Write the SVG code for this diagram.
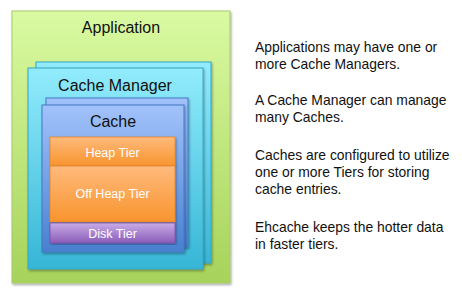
<svg xmlns="http://www.w3.org/2000/svg" width="462" height="294" viewBox="0 0 462 294">
<defs>
<linearGradient id="gApp" x1="0" y1="0" x2="0" y2="1"><stop offset="0" stop-color="#dafaa2"/><stop offset="1" stop-color="#a6d35a"/></linearGradient>
<linearGradient id="gMgr" x1="0" y1="0" x2="0" y2="1"><stop offset="0" stop-color="#92ecfc"/><stop offset="1" stop-color="#36b6d6"/></linearGradient>
<linearGradient id="gCache" x1="0" y1="0" x2="0" y2="1"><stop offset="0" stop-color="#a2c2fa"/><stop offset="1" stop-color="#4880d0"/></linearGradient>
<linearGradient id="gOr" x1="0" y1="0" x2="0" y2="1"><stop offset="0" stop-color="#ffba7c"/><stop offset="1" stop-color="#f8942e"/></linearGradient>
<linearGradient id="gPu" x1="0" y1="0" x2="0" y2="1"><stop offset="0" stop-color="#c8ace6"/><stop offset="1" stop-color="#8a5cb8"/></linearGradient>
<filter id="sh" x="-10%" y="-10%" width="120%" height="120%"><feDropShadow dx="1" dy="1.5" stdDeviation="1.2" flood-color="#000" flood-opacity="0.35"/></filter>
</defs>
<style>
.t{font-family:"Liberation Sans",Arial,sans-serif;text-anchor:middle;}
.d{font-size:16px;fill:#111;}
.w{font-size:12.5px;fill:#fff;}
.r{font-family:"Liberation Sans",Arial,sans-serif;font-size:13.9px;fill:#111;}
</style>
<rect width="462" height="294" fill="#fff"/>
<g id="application">
<rect x="12" y="11" width="218" height="272" fill="url(#gApp)" stroke="#a8c870" stroke-width="1" filter="url(#sh)"/>
<text class="t d" x="121" y="33">Application</text>
</g>
<g id="cache-manager">
<rect x="36" y="62" width="175" height="201" fill="url(#gMgr)" stroke="#36a6c6" stroke-width="1" filter="url(#sh)"/>
<rect x="28" y="68" width="175" height="201" fill="url(#gMgr)" stroke="#36a6c6" stroke-width="1" filter="url(#sh)"/>
<text class="t d" x="115" y="91">Cache Manager</text>
</g>
<g id="cache">
<rect x="46" y="98" width="142" height="149" fill="url(#gCache)" stroke="#4478c4" stroke-width="1" filter="url(#sh)"/>
<rect x="42" y="105" width="142" height="147" fill="url(#gCache)" stroke="#4478c4" stroke-width="1" filter="url(#sh)"/>
<text class="t d" x="113" y="127">Cache</text>
</g>
<g id="heap-tier">
<rect x="50" y="137" width="125" height="29" fill="url(#gOr)" stroke="#e08530" stroke-width="0.8" filter="url(#sh)"/>
<text class="t w" x="112.5" y="157">Heap Tier</text>
</g>
<g id="off-heap-tier">
<rect x="50" y="166" width="125" height="56" fill="url(#gOr)" stroke="#e08530" stroke-width="0.8" filter="url(#sh)"/>
<text class="t w" x="112.5" y="198">Off Heap Tier</text>
</g>
<g id="disk-tier">
<rect x="50" y="223" width="125" height="20" fill="url(#gPu)" stroke="#7a50a8" stroke-width="0.8" filter="url(#sh)"/>
<text class="t w" x="112.5" y="238">Disk Tier</text>
</g>
<g id="connectors"/>
<g id="notes">
<text class="r" x="255" y="52">Applications may have one or</text>
<text class="r" x="255" y="69">more Cache Managers.</text>
<text class="r" x="255" y="105">A Cache Manager can manage</text>
<text class="r" x="255" y="122">many Caches.</text>
<text class="r" x="255" y="160">Caches are configured to utilize</text>
<text class="r" x="255" y="177">one or more Tiers for storing</text>
<text class="r" x="255" y="194">cache entries.</text>
<text class="r" x="255" y="232">Ehcache keeps the hotter data</text>
<text class="r" x="255" y="249">in faster tiers.</text>
</g>
</svg>
